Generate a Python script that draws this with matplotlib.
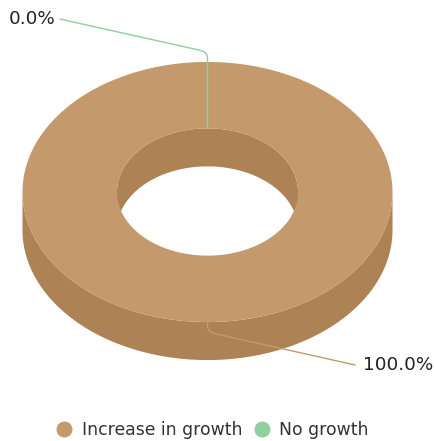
import numpy as np
import matplotlib
matplotlib.use("Agg")
import matplotlib.pyplot as plt
from matplotlib.patches import Polygon, PathPatch
from matplotlib.path import Path
from matplotlib.lines import Line2D

# Share of respondents per category
categories = ["Increase in growth", "No growth"]
values = [100.0, 0.0]
top_colors = ["#c49a6c", "#8fd19e"]
side_colors = ["#ad8255", "#76b886"]

# Donut layout in pixel units
cx, cy = 207.5, 192.0
r_out, r_in = 185.0, 90.5
tilt = 0.703
depth = 38.0

fig = plt.figure(figsize=(4.35, 4.41), dpi=100)
ax = fig.add_axes([0, 0, 1, 1])
ax.set_xlim(0, 435)
ax.set_ylim(441, 0)
ax.axis("off")


def ring_pts(t, r, dy=0.0):
    # angle measured clockwise from the top of the ellipse
    return np.column_stack([cx + r * np.sin(t), cy - r * tilt * np.cos(t) + dy])


def visible(t0, t1, lo, hi):
    # overlap of [t0, t1] with [lo, hi], also checking the wrapped copy
    out = []
    for shift in (-2 * np.pi, 0.0, 2 * np.pi):
        a, b = max(t0, lo + shift), min(t1, hi + shift)
        if b > a:
            out.append([a, b])
    # join pieces that meet across the 0 / 2pi seam
    if len(out) == 2 and np.isclose(out[0][0], 0) and np.isclose(out[1][1], 2 * np.pi):
        out = [[out[1][0] - 2 * np.pi, out[0][1]]]
    return out


def wall(rng, r, col):
    t = np.linspace(rng[0], rng[1], 200)
    pts = np.vstack([ring_pts(t, r), ring_pts(t[::-1], r, depth)])
    ax.add_patch(Polygon(pts, closed=True, fc=col, ec="none"))


total = sum(values)
starts = np.cumsum([0] + values[:-1]) / total * 2 * np.pi
ends = np.cumsum(values) / total * 2 * np.pi

# outer wall (front half) and inner wall (back half, seen through the hole)
for t0, t1, col in zip(starts, ends, side_colors):
    if t1 - t0 <= 0:
        continue
    for rng in visible(t0, t1, np.pi / 2, 3 * np.pi / 2):
        wall(rng, r_out, col)
    for rng in visible(t0, t1, -np.pi / 2, np.pi / 2):
        wall(rng, r_in, col)

# top face of each slice
for t0, t1, col in zip(starts, ends, top_colors):
    if t1 - t0 <= 0:
        continue
    t = np.linspace(t0, t1, 400)
    pts = np.vstack([ring_pts(t, r_out), ring_pts(t[::-1], r_in)])
    ax.add_patch(Polygon(pts, closed=True, fc=col, ec="none"))

# data labels with connectors
for t0, t1, v, col in zip(starts, ends, values, top_colors):
    tm = (t0 + t1) / 2
    sgn = 1.0 if np.cos(tm) < 0 else -1.0
    anchor = ring_pts(np.array([tm]), r_in if sgn < 0 else r_out)[0]
    edge = ring_pts(np.array([tm]), r_out)[0]
    elbow = np.array([edge[0], edge[1] + sgn * 10])
    end = elbow + np.array([sgn * 148, sgn * 33])
    u = (end - elbow) / np.hypot(*(end - elbow))
    verts = [anchor, elbow - np.array([0, sgn * 6]), elbow, elbow + 8 * u, end]
    codes = [Path.MOVETO, Path.LINETO, Path.CURVE3, Path.CURVE3, Path.LINETO]
    ax.add_patch(PathPatch(Path(verts, codes), fc="none", ec=col, lw=1.0))
    gap = 8 if sgn > 0 else 4
    ax.text(end[0] + sgn * gap, end[1], f"{v:.1f}%", fontsize=13.2, color="#222222",
            ha="left" if sgn > 0 else "right", va="center")

handles = [Line2D([], [], ls="none", marker="o", markersize=11.5, color=c, mec="none")
           for c in top_colors]
fig.legend(handles, categories, loc="center", bbox_to_anchor=(0.478, 0.026), ncol=2,
           frameon=False, fontsize=12.4, handletextpad=0.0, columnspacing=0.15,
           labelcolor="#333333")

fig.savefig("out.png", dpi=100, facecolor="white")
